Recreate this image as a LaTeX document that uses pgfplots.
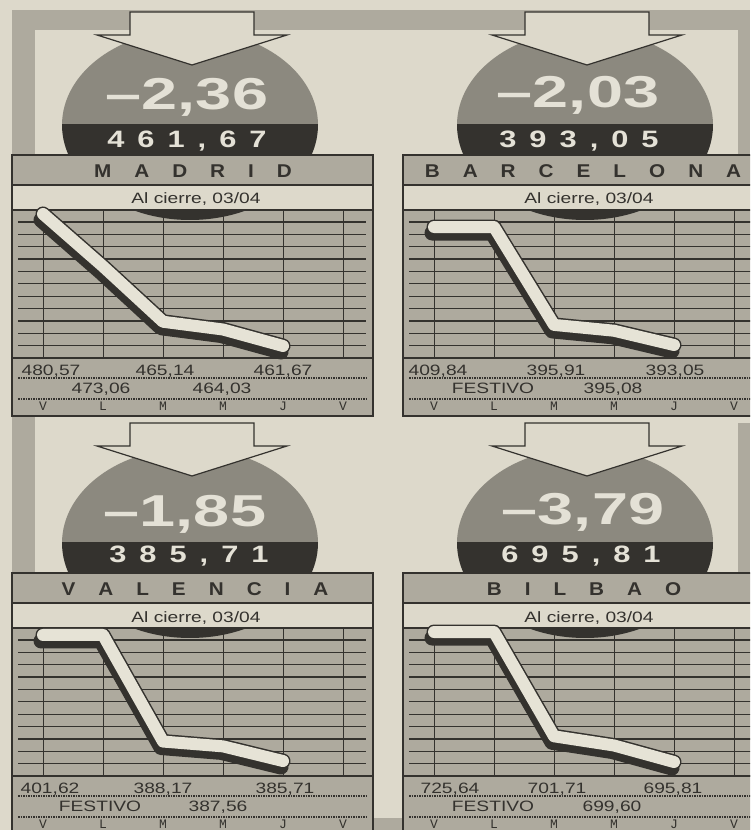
\documentclass[border=0pt]{standalone}
\usepackage{fontspec}
\setmainfont{Liberation Sans}
\newfontfamily\rowf[FakeStretch=1.28]{Liberation Sans}
\newfontfamily\bigf[FakeStretch=1.45]{Liberation Sans}
\newfontfamily\numf[FakeStretch=1.3]{Liberation Sans}
\newfontfamily\titf[FakeStretch=1.12]{Liberation Sans}
\newfontfamily\dayf{Liberation Mono}
\usepackage{pgfplots}
\usepackage{pgfplotstable}
\pgfplotsset{compat=1.18}

\definecolor{paper}{RGB}{221,217,203}
\definecolor{halft}{RGB}{174,170,158}
\definecolor{ellg}{RGB}{140,137,127}
\definecolor{darkc}{RGB}{52,50,46}
\definecolor{ribbonc}{RGB}{230,227,214}
\definecolor{lightc}{RGB}{228,225,214}

\pgfplotstableread{
d v
0 480.57
1 473.06
2 465.14
3 464.03
4 461.67
}\madrid
\pgfplotstableread{
d v
0 409.84
1 409.84
2 395.91
3 395.08
4 393.05
}\barcelona
\pgfplotstableread{
d v
0 401.62
1 401.62
2 388.17
3 387.56
4 385.71
}\valencia
\pgfplotstableread{
d v
0 725.64
1 725.64
2 701.71
3 699.60
4 695.81
}\bilbao

\newcommand{\spread}[2]{\foreach \ch [count=\ni] in {#2}{\ifnum\ni>1 \hspace{#1}\fi\ch}}

% #1 L, #2 T, #3 arrow centre x, #4 arrow top
\newcommand{\panel}[4]{%
  \pgfmathsetmacro\Y{830-#2}
  \pgfmathsetmacro\Ya{830-#4}
  \pgfmathsetmacro\Rx{#1+361}
  \fill[halft] (#1,\Y-55) rectangle (\Rx,\Y-262);
  \begin{scope}
    \clip (#3-2,\Y+30) ellipse [x radius=128, y radius=95];
    \fill[ellg] (#3-135,\Y+130) rectangle (#3+135,\Y+31);
    \fill[darkc] (#3-135,\Y+31) rectangle (#3+135,\Y-70);
  \end{scope}
  \filldraw[fill=paper, draw=darkc, line width=1.2pt, line join=miter]
    (#3-62,\Ya) -- (#3+62,\Ya) -- (#3+62,\Ya-23) -- (#3+95,\Ya-23) --
    (#3,\Ya-53) -- (#3-95,\Ya-23) -- (#3-62,\Ya-23) -- cycle;
  \fill[halft] (#1,\Y) rectangle (\Rx,\Y-30);
  \fill[paper] (#1,\Y-30) rectangle (\Rx,\Y-55);
  \foreach \kk in {0,...,11} \draw[darkc, line width=1.3pt] (#1+6,\Y-203+12.36*\kk) -- (#1+354,\Y-203+12.36*\kk);
  \foreach \kk in {0,...,5} \draw[darkc, line width=0.9pt] (#1+31+60*\kk,\Y-55) -- (#1+31+60*\kk,\Y-203);
  \draw[darkc, line width=2pt] (#1,\Y-203) -- (\Rx,\Y-203);
  \draw[darkc, line width=1.2pt, dash pattern=on 1.5pt off 1pt] (#1+6,\Y-223) -- (#1+354,\Y-223);
  \draw[darkc, line width=1.2pt, dash pattern=on 1.5pt off 1pt] (#1+6,\Y-244) -- (#1+354,\Y-244);
  \draw[darkc, line width=1.2pt] (#1,\Y) rectangle (\Rx,\Y-261);
  \draw[darkc, line width=1.2pt] (#1,\Y-30) -- (\Rx,\Y-30);
  \draw[darkc, line width=1.2pt] (#1,\Y-55) -- (\Rx,\Y-55);
  \foreach \kk/\dd in {0/V,1/L,2/M,3/M,4/J,5/V}
    \node[anchor=base, text=darkc, font=\dayf\fontsize{13}{13}\selectfont, inner sep=0pt] at (#1+31+60*\kk,\Y-255.5) {\dd};
}

\tikzset{
  bign/.style={anchor=base, inner sep=0pt, text=lightc, font=\bigf\bfseries\fontsize{44.7}{45}\selectfont},
  numr/.style={anchor=base, inner sep=0pt, text=lightc, font=\numf\bfseries\fontsize{23.7}{24}\selectfont},
  titl/.style={anchor=base, inner sep=0pt, text=darkc, font=\titf\bfseries\fontsize{18.5}{18.5}\selectfont},
  subt/.style={anchor=base, inner sep=0pt, text=darkc, font=\rowf\fontsize{15}{15}\selectfont},
  rowt/.style={anchor=base, inner sep=0pt, text=darkc, font=\rowf\fontsize{15}{15}\selectfont},
  shad/.style={darkc, line width=15pt, line cap=round, line join=round, mark=none, xshift=-2pt, yshift=-6pt},
  outl/.style={darkc, line width=15pt, line cap=round, line join=round, mark=none},
  ribb/.style={ribbonc, line width=12pt, line cap=round, line join=round, mark=none},
}

\begin{document}
\begin{tikzpicture}[x=1pt,y=1pt]
\useasboundingbox (0,0) rectangle (750,830);
\clip (0,0) rectangle (750,830);
\fill[paper] (0,0) rectangle (750,830);
% frame strips
\fill[halft] (12,820) rectangle (750,800);
\fill[halft] (12,820) rectangle (35,257);
\fill[halft] (738,820) rectangle (750,675);
\fill[halft] (738,407) rectangle (750,257);
\fill[halft] (373,12) rectangle (403,0);

\panel{12}{155}{192}{12}
\panel{403}{155}{587}{12}
\panel{12}{573}{192}{423}
\panel{403}{573}{587}{423}

% MADRID texts
\node[bign] at (187,720) {–2,36};
\node[numr] at (187,682.5) {\spread{13pt}{4,6,1,{,},6,7}};
\node[titl] at (193,652) {\spread{23pt}{M,A,D,R,I,D}};
\node[subt] at (196,626) {Al cierre, 03/04};
\node[rowt] at (51,454.5) {480,57};
\node[rowt] at (165,454.5) {465,14};
\node[rowt] at (283,454.5) {461,67};
\node[rowt] at (101,436) {473,06};
\node[rowt] at (222,436) {464,03};

% BARCELONA texts
\node[bign] at (578,722) {–2,03};
\node[numr] at (579,682) {\spread{13pt}{3,9,3,{,},0,5}};
\node[titl] at (583,652) {\spread{23pt}{B,A,R,C,E,L,O,N,A}};
\node[subt] at (589,626) {Al cierre, 03/04};
\node[rowt] at (438,454.5) {409,84};
\node[rowt] at (556,454.5) {395,91};
\node[rowt] at (675,454.5) {393,05};
\node[rowt] at (493,436) {FESTIVO};
\node[rowt] at (613,436) {395,08};

% VALENCIA texts
\node[bign] at (185,303) {–1,85};
\node[numr] at (189,267) {\spread{13pt}{3,8,5,{,},7,1}};
\node[titl] at (195,234) {\spread{23pt}{V,A,L,E,N,C,I,A}};
\node[subt] at (196,207.5) {Al cierre, 03/04};
\node[rowt] at (50,36.5) {401,62};
\node[rowt] at (163,36.5) {388,17};
\node[rowt] at (285,36.5) {385,71};
\node[rowt] at (100,18) {FESTIVO};
\node[rowt] at (218,18) {387,56};

% BILBAO texts
\node[bign] at (583,305) {–3,79};
\node[numr] at (581,267) {\spread{13pt}{6,9,5,{,},8,1}};
\node[titl] at (584,234) {\spread{23pt}{B,I,L,B,A,O}};
\node[subt] at (589,207.5) {Al cierre, 03/04};
\node[rowt] at (450,36.5) {725,64};
\node[rowt] at (557,36.5) {701,71};
\node[rowt] at (673,36.5) {695,81};
\node[rowt] at (493,18) {FESTIVO};
\node[rowt] at (612,18) {699,60};

% charts
\begin{axis}[at={(12pt,472pt)}, anchor=south west, scale only axis, width=361pt, height=148pt,
  hide axis, clip=false, xmin=-0.5167, xmax=5.5, ymin=459.95, ymax=481.14]
\addplot[shad] table[x=d,y=v] {\madrid};
\addplot[outl] table[x=d,y=v] {\madrid};
\addplot[ribb] table[x=d,y=v] {\madrid};
\end{axis}
\begin{axis}[at={(403pt,472pt)}, anchor=south west, scale only axis, width=361pt, height=148pt,
  hide axis, clip=false, xmin=-0.5167, xmax=5.5, ymin=391.20, ymax=412.26]
\addplot[shad] table[x=d,y=v] {\barcelona};
\addplot[outl] table[x=d,y=v] {\barcelona};
\addplot[ribb] table[x=d,y=v] {\barcelona};
\end{axis}
\begin{axis}[at={(12pt,54pt)}, anchor=south west, scale only axis, width=361pt, height=148pt,
  hide axis, clip=false, xmin=-0.5167, xmax=5.5, ymin=383.82, ymax=402.50]
\addplot[shad] table[x=d,y=v] {\valencia};
\addplot[outl] table[x=d,y=v] {\valencia};
\addplot[ribb] table[x=d,y=v] {\valencia};
\end{axis}
\begin{axis}[at={(403pt,54pt)}, anchor=south west, scale only axis, width=361pt, height=148pt,
  hide axis, clip=false, xmin=-0.5167, xmax=5.5, ymin=692.60, ymax=726.56]
\addplot[shad] table[x=d,y=v] {\bilbao};
\addplot[outl] table[x=d,y=v] {\bilbao};
\addplot[ribb] table[x=d,y=v] {\bilbao};
\end{axis}
\end{tikzpicture}
\end{document}
